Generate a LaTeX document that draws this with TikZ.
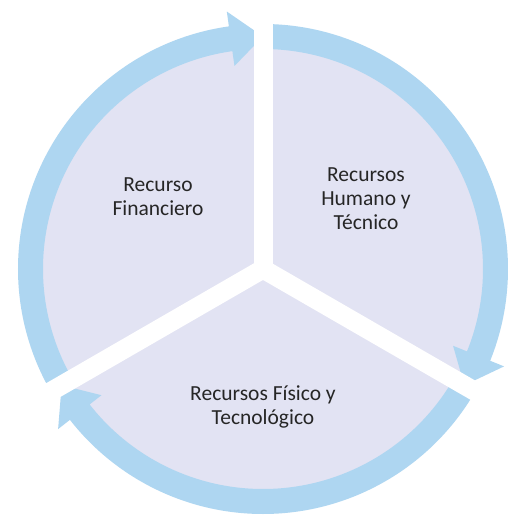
\documentclass[tikz,border=0pt]{standalone}
\usepackage{fontspec}
\setmainfont{Carlito}
\usetikzlibrary{backgrounds}
\definecolor{pieLavender}{RGB}{226,227,243}
\definecolor{ringBlue}{RGB}{174,214,241}
\definecolor{textGray}{RGB}{38,38,38}
\tikzset{
  segtext/.style={font=\fontsize{21.5}{24}\selectfont, text=textGray, align=center, inner sep=0pt},
  ringarrow/.style={fill=ringBlue, draw=none},
  gapline/.style={draw=white, line width=19pt, line cap=round},
}

\begin{document}
\begin{tikzpicture}[x=1pt,y=1pt]
\useasboundingbox[fill=white] (-263,-252) rectangle (244,269);

%% PIE
\fill[pieLavender] (0,0) circle[radius=232pt];

%% RING ARROWS (clockwise, one per segment)
\foreach \a in {90,-30,210}{
  \pgfmathsetmacro{\b}{\a-120}
  \pgfmathsetmacro{\h}{\b+8}
  \path[ringarrow] (\a:245pt) arc[start angle=\a, end angle=\h, radius=245pt]
    -- (\h:260pt) -- (\b:232.5pt) -- (\h:205pt) -- (\h:220pt)
    arc[start angle=\h, end angle=\a, radius=220pt] -- cycle;
}

%% GAPS
\foreach \g in {90,-30,210}
  \draw[gapline] (0,0) -- (\g:290pt);

%% LABELS
\node[segtext] (fin) at (-105,72) {Recurso\\Financiero};
\node[segtext] (hum) at (103,70) {Recursos\\Humano y\\Técnico};
\node[segtext] (fis) at (0,-138) {Recursos Físico y\\Tecnológico};

\end{tikzpicture}
\end{document}
